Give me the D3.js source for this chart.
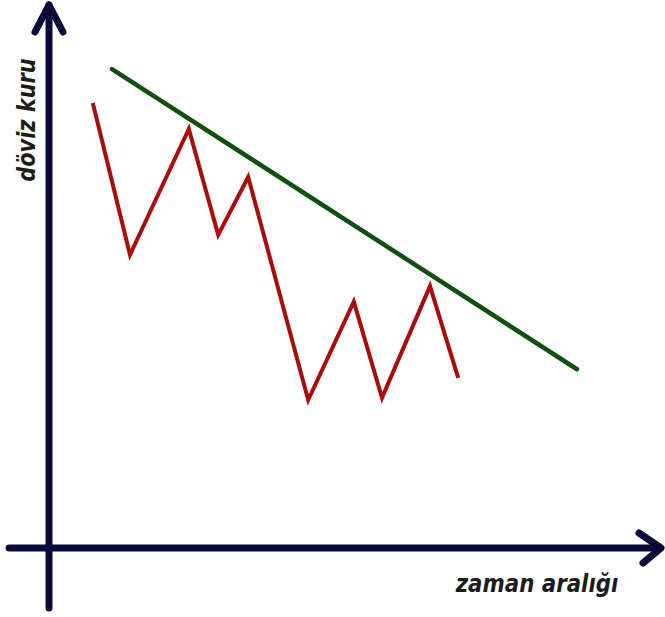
<!DOCTYPE html>
<html>
<head>
<meta charset="utf-8">
<script src="https://cdn.jsdelivr.net/npm/d3@7"></script>
<style>
  body { margin: 0; background: #fff; }
  text { font-family: 'DejaVu Sans', sans-serif; font-weight: bold; font-style: italic; fill: #1c1c1c; }
</style>
</head>
<body>
<div class="chart"></div>
<script>
// red price line (time, rate) in chart units 0..100
const priceTime = [7.3, 13.5, 23.3, 28.2, 33.2, 43.2, 50.8, 55.5, 63.5, 68.2];
const priceRate = [82.4, 54.3, 77.6, 58.0, 68.7, 27.4, 45.6, 27.8, 48.5, 31.5];

// green trend line
const trendTime = [10.5, 88];
const trendRate = [88.7, 33.1];

const xLabel = 'zaman aralığı';
const yLabel = 'döviz kuru';

const width = 665, height = 617;

var svg = d3.select('.chart').append('svg')
  .attr('width', width)
  .attr('height', height);

var x = d3.scaleLinear().domain([0, 100]).range([49, 649]);
var y = d3.scaleLinear().domain([0, 100]).range([548, 8]);

const axisColor = '#0b0b3b';

// axes (drawn by hand, arrows at the ends)
svg.append('line')
  .attr('x1', 49).attr('y1', 608).attr('x2', 49).attr('y2', 5)
  .attr('stroke', axisColor).attr('stroke-width', 7).attr('stroke-linecap', 'round');
svg.append('path')
  .attr('d', 'M35,32 L49,5 L63,32')
  .attr('fill', 'none').attr('stroke', axisColor).attr('stroke-width', 7)
  .attr('stroke-linecap', 'round').attr('stroke-linejoin', 'round');

svg.append('line')
  .attr('x1', 9).attr('y1', 548).attr('x2', 660).attr('y2', 548)
  .attr('stroke', axisColor).attr('stroke-width', 7).attr('stroke-linecap', 'round');
svg.append('path')
  .attr('d', 'M639,533 L661,548 L643,563')
  .attr('fill', 'none').attr('stroke', axisColor).attr('stroke-width', 7)
  .attr('stroke-linecap', 'round').attr('stroke-linejoin', 'round');

var line = d3.line()
  .x((d) => x(d[0]))
  .y((d) => y(d[1]));

// trend line
svg.append('path')
  .datum(d3.zip(trendTime, trendRate))
  .attr('d', line)
  .attr('fill', 'none')
  .attr('stroke', '#0f4f0f')
  .attr('stroke-width', 4.5)
  .attr('stroke-linecap', 'round');

// price line
svg.append('path')
  .datum(d3.zip(priceTime, priceRate))
  .attr('d', line)
  .attr('fill', 'none')
  .attr('stroke', '#a80c0c')
  .attr('stroke-width', 4)
  .attr('stroke-linejoin', 'miter')
  .attr('stroke-linecap', 'butt');

// labels (font squeezed along the text direction)
svg.append('text')
  .attr('transform', 'translate(537,592) scale(0.89,1)')
  .attr('text-anchor', 'middle')
  .style('font-size', '24px')
  .text(xLabel);

svg.append('text')
  .attr('transform', 'translate(35,120) rotate(-90) scale(0.87,1)')
  .attr('text-anchor', 'middle')
  .style('font-size', '24px')
  .text(yLabel);
</script>
</body>
</html>
